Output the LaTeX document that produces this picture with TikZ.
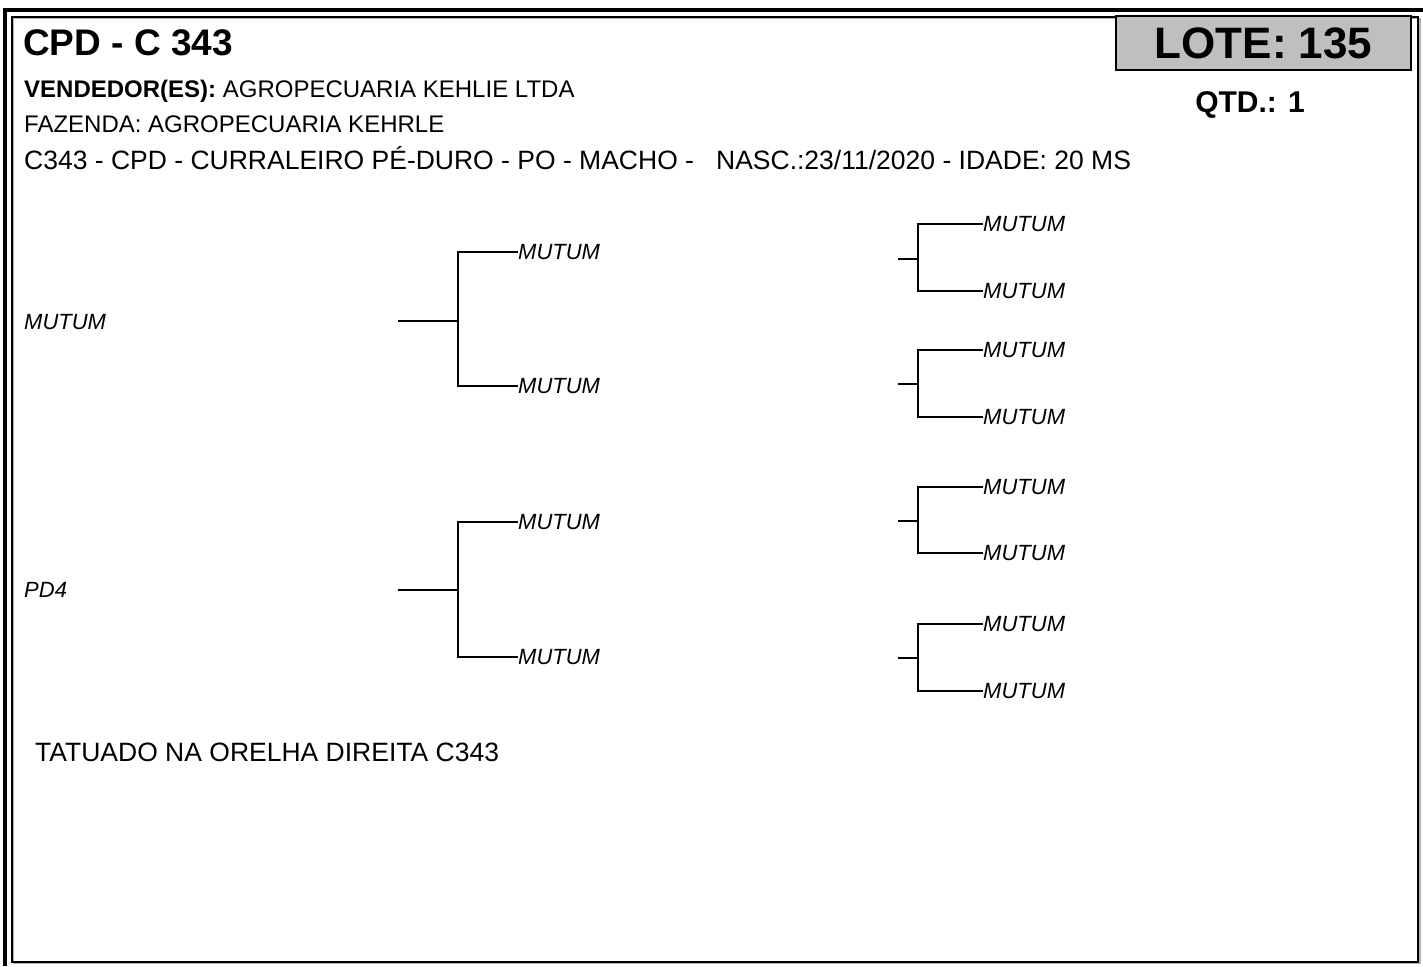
\documentclass[tikz,border=0pt]{standalone}
\usepackage{fontspec}
\setmainfont{Liberation Sans}
\begin{document}
\begin{tikzpicture}[x=1pt,y=-1pt,
  txt/.style={anchor=base west,inner sep=0pt,font=\fontsize{24}{28}\selectfont},
  lbl/.style={anchor=west,inner sep=0pt,font=\fontsize{22}{26}\selectfont\itshape},
  tree/.style={line width=2.5pt},
]
\useasboundingbox (0,0) rectangle (1423,966);
% frames
\draw[line width=3.5pt] (5,966) -- (5,10) -- (1423,10);
\draw[line width=1.6pt,gray!60] (13.5,18.5) rectangle (1420,963.5);
\draw[line width=1.4pt] (12,17) rectangle (1418,962);
% header
\node[anchor=base west,inner sep=0pt,font=\fontsize{37}{40}\selectfont\bfseries] (title) at (23,56) {CPD - C 343};
\node[txt] (vend) at (24,97) {\textbf{VENDEDOR(ES):} AGROPECUARIA KEHLIE LTDA};
\node[txt] (faz) at (24,132) {FAZENDA: AGROPECUARIA KEHRLE};
\node[txt,font=\fontsize{26.5}{30}\selectfont] (desc) at (24,169) {C343 - CPD - CURRALEIRO PÉ-DURO - PO - MACHO - \ \ NASC.:23/11/2020 - IDADE: 20 MS};
\node[draw,line width=1.2pt,fill=gray!50,minimum width=295pt,minimum height=54pt,inner sep=0pt,
  font=\fontsize{44}{46}\selectfont\bfseries] (lote) at (1263.5,43) {LOTE: 135};
\node[inner sep=0pt,font=\fontsize{30}{32}\selectfont\bfseries] (qtd) at (1250,105) {QTD.: 1};
% parents
\node[lbl] (p1) at (24,322) {MUTUM};
\node[lbl] (p2) at (24,590) {PD4};
% grandparents
\node[lbl] (g1) at (518,252) {MUTUM};
\node[lbl] (g2) at (518,386) {MUTUM};
\node[lbl] (g3) at (518,522) {MUTUM};
\node[lbl] (g4) at (518,657) {MUTUM};
% great-grandparents
\node[lbl] (h1) at (983,224) {MUTUM};
\node[lbl] (h2) at (983,291) {MUTUM};
\node[lbl] (h3) at (983,350) {MUTUM};
\node[lbl] (h4) at (983,417) {MUTUM};
\node[lbl] (h5) at (983,487) {MUTUM};
\node[lbl] (h6) at (983,553) {MUTUM};
\node[lbl] (h7) at (983,624) {MUTUM};
\node[lbl] (h8) at (983,691) {MUTUM};
% left brackets
\coordinate (a1) at (398,321);
\coordinate (j1) at (458,321);
\coordinate (a2) at (398,590);
\coordinate (j2) at (458,590);
\draw[tree] (a1) -- (j1);
\draw[tree] (g1.west) -| (j1) |- (g2.west);
\draw[tree] (a2) -- (j2);
\draw[tree] (g3.west) -| (j2) |- (g4.west);
% right brackets
\coordinate (b1) at (898,259);  \coordinate (k1) at (918,259);
\coordinate (b2) at (898,384);  \coordinate (k2) at (918,384);
\coordinate (b3) at (898,521);  \coordinate (k3) at (918,521);
\coordinate (b4) at (898,658);  \coordinate (k4) at (918,658);
\draw[tree] (b1) -- (k1);
\draw[tree] (h1.west) -| (k1) |- (h2.west);
\draw[tree] (b2) -- (k2);
\draw[tree] (h3.west) -| (k2) |- (h4.west);
\draw[tree] (b3) -- (k3);
\draw[tree] (h5.west) -| (k3) |- (h6.west);
\draw[tree] (b4) -- (k4);
\draw[tree] (h7.west) -| (k4) |- (h8.west);
% footer
\node[anchor=west,inner sep=0pt,font=\fontsize{26.5}{30}\selectfont] (tat) at (35,752) {TATUADO NA ORELHA DIREITA C343};
\end{tikzpicture}
\end{document}
